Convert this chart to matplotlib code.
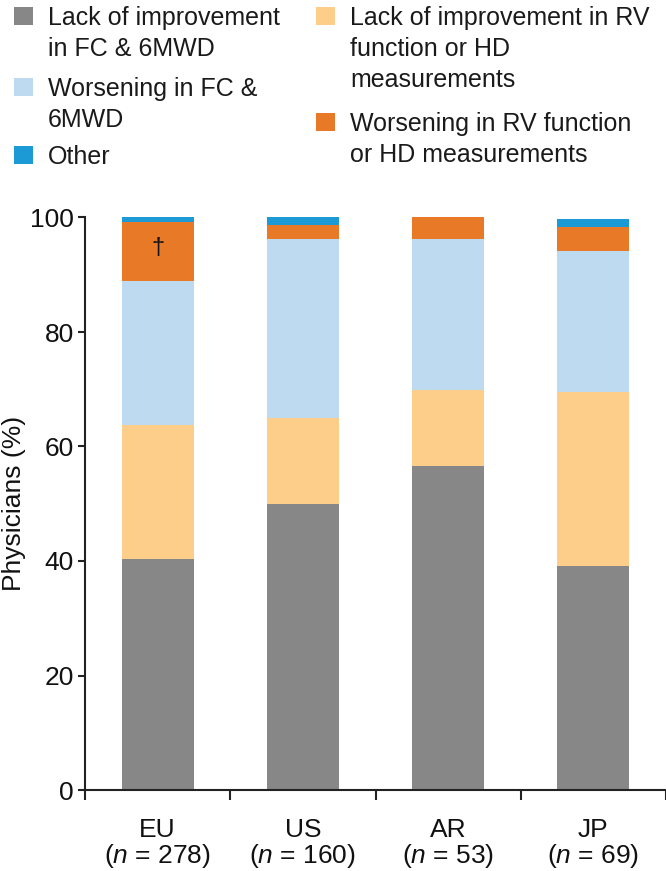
import matplotlib
matplotlib.use('Agg')
import matplotlib.pyplot as plt
from matplotlib.patches import Rectangle
import numpy as np

plt.rcParams['font.family'] = ['Liberation Sans', 'DejaVu Sans']
plt.rcParams['mathtext.fontset'] = 'custom'
plt.rcParams['mathtext.rm'] = 'Liberation Sans'
plt.rcParams['mathtext.it'] = 'Liberation Sans:italic'

# Daten (Anteil der Aerzte in %)
regions = ['EU', 'US', 'AR', 'JP']
n_values = [278, 160, 53, 69]
lack_fc = [40.3, 50.0, 56.6, 39.1]
lack_rv = [23.4, 15.0, 13.2, 30.4]
worse_fc = [25.2, 31.25, 26.4, 24.6]
worse_rv = [10.4, 2.5, 3.8, 4.3]
other = [0.7, 1.25, 0.0, 1.4]

series = [
    (lack_fc, '#878787'),
    (lack_rv, '#FDCD8A'),
    (worse_fc, '#BDDAF0'),
    (worse_rv, '#E87A27'),
    (other, '#1B9AD6'),
]

fig = plt.figure(figsize=(6.66, 8.71), dpi=100)
ax = fig.add_axes([85/666, 1 - 790/871, 581/666, (790 - 217.5)/871])

x = np.arange(len(regions))
bottom = np.zeros(len(regions))
for vals, col in series:
    ax.bar(x, vals, width=0.495, bottom=bottom, color=col, linewidth=0)
    bottom += np.array(vals)

# Dolchkreuz im EU-Balken
ax.text(x[0], lack_fc[0] + lack_rv[0] + worse_fc[0] + worse_rv[0] * 0.55, '†',
        ha='center', va='center', fontsize=17, color='#111111')

ax.set_xlim(-0.5, 3.5)
ax.set_ylim(0, 100)
ax.set_yticks([0, 20, 40, 60, 80, 100])
ax.tick_params(axis='y', labelsize=19, length=5, width=1.5, pad=3, color='#222222',
               labelcolor='#111111')
ax.set_xticks(x)
ax.set_xticklabels([f'{r}\n($\\it{{n}}$ = {n})' for r, n in zip(regions, n_values)],
                   fontsize=19, linespacing=1.0, color='#111111')
ax.tick_params(axis='x', length=0, pad=20)
ax.set_xticks(np.arange(-0.5, 4, 1), minor=True)
ax.tick_params(axis='x', which='minor', length=7, width=1.5, color='#222222')
ax.set_ylabel('Physicians (%)', fontsize=19, labelpad=3, color='#111111')
for s in ['top', 'right']:
    ax.spines[s].set_visible(False)
for s in ['left', 'bottom']:
    ax.spines[s].set_linewidth(1.5)
    ax.spines[s].set_color('#222222')

# Legende von Hand
H = 871
legend_items = [
    ('#878787', 'Lack of improvement\nin FC & 6MWD', 14, 16),
    ('#BDDAF0', 'Worsening in FC &\n6MWD', 14, 87),
    ('#1B9AD6', 'Other', 14, 155),
    ('#FDCD8A', 'Lack of improvement in RV\nfunction or HD\nmeasurements', 316, 16),
    ('#E87A27', 'Worsening in RV function\nor HD measurements', 316, 122),
]
for col, label, px, py in legend_items:
    fig.patches.append(Rectangle((px/666, 1 - (py + 9)/H), 19/666, 18/H,
                                 transform=fig.transFigure, color=col, lw=0))
    fig.text((px + 34)/666, 1 - (py - 10)/H, label, fontsize=18, va='top',
             ha='left', linespacing=1.36, color='#1a1a1a')

fig.savefig('out.png', dpi=100)
